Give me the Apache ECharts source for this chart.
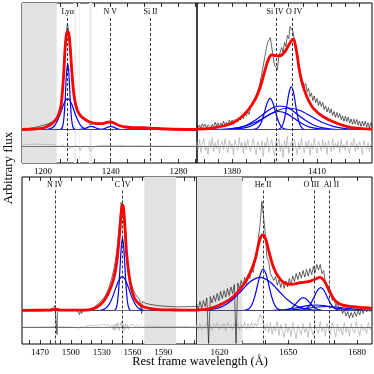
<!DOCTYPE html>
<html>
<head>
<meta charset="utf-8">
<script src="https://cdn.jsdelivr.net/npm/echarts@6/dist/echarts.min.js"></script>
<style>
html,body{margin:0;padding:0;background:#fff;}
#chart{width:374px;height:374px;}
</style>
</head>
<body>
<div id="chart"></div>
<script>
// ---------- data (wavelength in Angstrom, flux in arbitrary units, 0 = fit baseline) ----------
var RES0 = -0.165;   // zero level of the residual strip

// top-left : Lya / N V
var tlData = [[1187.6,0.002],[1189,0.004],[1190.5,0.006],[1192,0.01],[1193.5,0.014],[1195,0.02],[1196.5,0.026],[1198,0.032],[1199.5,0.04],[1201,0.046],[1202.5,0.054],[1204,0.064],[1205.5,0.078],[1206.5,0.09],[1207.5,0.108],[1208.5,0.13],[1209.3,0.15],[1210,0.185],[1210.7,0.24],[1211.4,0.33],[1212.1,0.47],[1212.8,0.66],[1213.4,0.84],[1213.9,0.98],[1214.4,1.06],[1214.9,1.02],[1215.4,0.93],[1215.9,0.82],[1216.5,0.66],[1217.1,0.52],[1217.8,0.39],[1218.5,0.3],[1219.3,0.23],[1220.2,0.18],[1221.2,0.145],[1222.2,0.12],[1223.3,0.105],[1224.5,0.092],[1225.8,0.08],[1227,0.07],[1227.8,0.045],[1228.5,0.065],[1230,0.06],[1231.5,0.055],[1233,0.057],[1234.5,0.06],[1236,0.064],[1237.5,0.07],[1239,0.078],[1240.2,0.082],[1241.4,0.076],[1242.6,0.062],[1244,0.046],[1245.5,0.034],[1247,0.027],[1249,0.022],[1251,0.02],[1253,0.018],[1255,0.019],[1257,0.02],[1259,0.021],[1261,0.016],[1263,0.012],[1265,0.01],[1267,0.009],[1269,0.008],[1271,0.006],[1273,0.008],[1275,0.005],[1277,0.004],[1280,0.003],[1283,0.003],[1286,0.002],[1289,0.002],[1291,0.001]];
var tlFit = [[1187.6,0.0],[1194.3,0.005],[1200.2,0.015],[1204.1,0.045],[1207.1,0.088],[1209.1,0.145],[1210.7,0.245],[1212,0.495],[1213,0.795],[1213.8,0.945],[1214.6,0.978],[1215.4,0.945],[1216.2,0.795],[1217.2,0.545],[1218.3,0.345],[1219.9,0.212],[1221.9,0.145],[1224.9,0.102],[1227.8,0.075],[1231.8,0.058],[1234.7,0.058],[1237.3,0.068],[1239.6,0.075],[1242,0.065],[1244.6,0.042],[1248.5,0.025],[1253.5,0.018],[1259.4,0.018],[1265.3,0.012],[1273.2,0.005],[1291,0.0]];
var tlComps = [
  [[1187.6,0],[1209.5,0],[1210.8,0.005],[1211.6,0.03],[1212.4,0.12],[1213.2,0.33],[1213.9,0.56],[1214.6,0.662],[1215.3,0.56],[1216,0.33],[1216.8,0.12],[1217.6,0.03],[1218.4,0.005],[1219.7,0],[1291,0]],
  [[1187.6,0],[1202,0],[1204,0.006],[1206,0.022],[1208,0.07],[1210,0.148],[1212,0.245],[1213.3,0.29],[1214.6,0.308],[1215.9,0.29],[1217.2,0.245],[1219.2,0.148],[1221.2,0.07],[1223.2,0.022],[1225.2,0.006],[1227.2,0],[1291,0]],
  [[1187.6,0],[1221,0],[1223.5,0.005],[1225.5,0.015],[1227,0.026],[1228.4,0.03],[1229.8,0.026],[1231.3,0.015],[1233.3,0.005],[1236,0],[1291,0]],
  [[1187.6,0],[1234,0],[1236,0.006],[1237.8,0.02],[1240,0.032],[1242.2,0.02],[1244,0.006],[1246,0],[1291,0]],
  [[1187.6,0],[1255,0],[1258,0.004],[1262,0.01],[1266,0.004],[1269,0],[1291,0]]
];
var tlResid = [[1188,-0.155],[1191,-0.15],[1194,-0.145],[1197,-0.148],[1200,-0.15],[1203,-0.147],[1206,-0.152],[1208,-0.16],[1210,-0.17],[1211.5,-0.15],[1213,-0.18],[1214,-0.2],[1215,-0.16],[1216,-0.19],[1217,-0.21],[1218,-0.17],[1219.5,-0.16],[1221,-0.175],[1222,-0.21],[1223,-0.17],[1225,-0.165],[1227,-0.175],[1228,-0.22],[1229,-0.2],[1230,-0.17],[1233,-0.162],[1236,-0.158],[1239,-0.16],[1241,-0.163],[1244,-0.157],[1248,-0.162],[1252,-0.165],[1256,-0.16],[1260,-0.165],[1264,-0.163],[1268,-0.166],[1272,-0.164],[1276,-0.165],[1280,-0.165],[1285,-0.165],[1291,-0.165]];
var tlMasks = [[1187.6,1208.1]];
var tlLightMasks = [[1218.3,1219.5],[1221.3,1221.9],[1227.2,1229]];
var tlLines = [['Lyα',1214.6],['N V',1239.8],['Si II',1263.5]];

// top-right : Si IV + O IV]
var trWave = [1367.5,1368,1368.5,1369,1369.5,1370,1370.5,1371,1371.5,1372,
  1372.5,1373,1373.5,1374,1374.5,1375,1375.5,1376,1376.5,1377,
  1377.5,1378,1378.5,1379,1379.5,1380,1380.5,1381,1381.5,1382,
  1382.5,1383,1383.5,1384,1384.5,1385,1385.5,1386,1386.5,1387,
  1387.5,1388,1388.5,1389,1389.5,1390,1390.5,1391,1391.5,1392,
  1392.5,1393,1393.5,1394,1394.5,1395,1395.5,1396,1396.5,1397,
  1397.5,1398,1398.5,1399,1399.5,1400,1400.5,1401,1401.5,1402,
  1402.5,1403,1403.5,1404,1404.5,1405,1405.5,1406,1406.5,1407,
  1407.5,1408,1408.5,1409,1409.5,1410,1410.5,1411,1411.5,1412,
  1412.5,1413,1413.5,1414,1414.5,1415,1415.5,1416,1416.5,1417,
  1417.5,1418,1418.5,1419,1419.5,1420,1420.5,1421,1421.5,1422,
  1422.5,1423,1423.5,1424,1424.5,1425,1425.5,1426,1426.5,1427,
  1427.5,1428,1428.5,1429,1429.5];
var trFlux = [0.05,0.02,0.045,0.012,0.057,0.028,0.052,0.013,0.046,0.065,
  0.02,0.052,0.015,0.072,0.034,0.066,0.024,0.065,0.044,0.085,
  0.038,0.073,0.039,0.094,0.062,0.096,0.052,0.1,0.12,0.076,
  0.123,0.095,0.143,0.107,0.167,0.136,0.18,0.15,0.22,0.2,
  0.265,0.245,0.335,0.32,0.42,0.425,0.56,0.57,0.72,0.73,
  0.87,0.85,0.92,0.82,0.81,0.64,0.64,0.6,0.73,0.72,
  0.82,0.77,0.87,0.83,0.94,0.91,1.03,1.05,0.98,0.97,
  0.8,0.77,0.63,0.64,0.52,0.53,0.43,0.46,0.38,0.41,
  0.33,0.365,0.29,0.335,0.27,0.31,0.24,0.285,0.23,0.27,
  0.2,0.235,0.175,0.22,0.165,0.205,0.142,0.18,0.122,0.17,
  0.118,0.16,0.098,0.137,0.082,0.131,0.08,0.125,0.065,0.106,
  0.052,0.103,0.054,0.1,0.042,0.084,0.031,0.083,0.035,0.082,
  0.025,0.068,0.016,0.069,0.022];
var trResid = [-0.12,-0.2,-0.1,-0.23,-0.14,-0.09,-0.21,-0.16,-0.25,-0.11,-0.18,-0.08,-0.22,-0.13,-0.19,-0.1,-0.24,-0.15,-0.12,-0.2,
  -0.09,-0.17,-0.23,-0.11,-0.19,-0.14,-0.26,-0.1,-0.16,-0.21,-0.08,-0.18,-0.13,-0.24,-0.12,-0.2,-0.1,-0.17,-0.22,-0.14,
  -0.09,-0.19,-0.25,-0.12,-0.16,-0.21,-0.11,-0.27,-0.13,-0.18,-0.08,-0.23,-0.15,-0.1,-0.2,-0.26,-0.12,-0.17,-0.09,-0.22,
  -0.14,-0.28,-0.11,-0.19,-0.07,-0.24,-0.16,-0.12,-0.21,-0.1,-0.18,-0.25,-0.13,-0.2,-0.09,-0.17,-0.23,-0.12,-0.19,-0.11,
  -0.26,-0.14,-0.2,-0.09,-0.18,-0.24,-0.12,-0.16,-0.21,-0.1,-0.19,-0.13,-0.25,-0.11,-0.17,-0.22,-0.09,-0.2,-0.14,-0.18,
  -0.12,-0.23,-0.1,-0.19,-0.15,-0.21,-0.11,-0.18,-0.24,-0.13,-0.17,-0.09,-0.22,-0.14,-0.2,-0.12,-0.18,-0.25,-0.11,-0.16,
  -0.2,-0.13,-0.22,-0.15,-0.12];
var trFit = [[1367.6,0.005],[1372.2,0.012],[1376.9,0.035],[1380.5,0.07],[1383.4,0.128],[1385.8,0.2],[1388.1,0.3],[1389.9,0.42],[1391.3,0.56],[1392.8,0.7],[1394,0.745],[1395.2,0.74],[1396.3,0.735],[1397.5,0.745],[1398.7,0.78],[1399.9,0.84],[1401.1,0.895],[1401.7,0.9],[1402.3,0.85],[1403,0.74],[1403.6,0.62],[1404.6,0.478],[1406.4,0.328],[1408.7,0.212],[1412.2,0.128],[1417,0.062],[1421.7,0.022],[1429.4,0.003]];
var trComps = [
  [[1367.6,0],[1386.9,0],[1388.4,0.007],[1389.4,0.026],[1390.4,0.078],[1391.4,0.168],[1392.4,0.267],[1393.4,0.312],[1394.4,0.267],[1395.4,0.168],[1396.4,0.078],[1397.4,0.026],[1398.4,0.007],[1399.9,0],[1429.4,0]],
  [[1367.6,0],[1395.4,0],[1396.7,0.006],[1397.7,0.037],[1398.5,0.109],[1399.3,0.233],[1400.1,0.368],[1400.9,0.428],[1401.7,0.368],[1402.5,0.233],[1403.3,0.109],[1404.1,0.037],[1405.1,0.006],[1406.4,0],[1429.4,0]],
  [[1367.6,0],[1375,0],[1379,0.005],[1382,0.016],[1385,0.043],[1388,0.09],[1391,0.153],[1394,0.212],[1397,0.235],[1400,0.212],[1403,0.153],[1406,0.09],[1409,0.043],[1412,0.016],[1415,0.005],[1419,0],[1429.4,0]],
  [[1367.6,0],[1376,0.002],[1380,0.009],[1384,0.029],[1388,0.07],[1392,0.13],[1396,0.19],[1400,0.215],[1404,0.19],[1408,0.13],[1412,0.07],[1416,0.029],[1420,0.009],[1424,0.002],[1429.4,0]],
  [[1367.6,0],[1379.5,0],[1382.75,0.008],[1385.5,0.024],[1388.25,0.058],[1391,0.109],[1393.75,0.159],[1396.5,0.18],[1399.25,0.159],[1402,0.109],[1404.75,0.058],[1407.5,0.024],[1410.25,0.008],[1413.5,0],[1429.4,0]]
];
var trLines = [['Si IV',1395.5],['O IV',1401.2]];

// bottom-left : N IV] / C IV
var blData = [[1452.5,0.003],[1455,0.0],[1457.5,0.004],[1460,0.001],[1462.5,0.005],[1465,0.002],[1467.5,0.006],[1470,0.003],[1472.5,0.007],[1475,0.004],[1477.5,0.008],[1480,0.012],[1482,0.025],[1483.5,0.04],[1484.5,0.05],[1485.5,0.042],[1486.2,0.03],[1486.6,-0.24],[1487,0.02],[1488,0.012],[1490,0.006],[1492.5,0.003],[1495,0.005],[1497.5,0.001],[1500,0.004],[1502.5,0.002],[1505,0.0],[1507,-0.01],[1508.5,-0.04],[1509.5,0.0],[1510.5,-0.03],[1511.5,-0.05],[1512.5,0.0],[1514,0.004],[1516,0.008],[1518,0.012],[1520,0.02],[1522,0.03],[1524,0.045],[1526,0.06],[1528,0.08],[1530,0.1],[1532,0.125],[1534,0.155],[1536,0.2],[1538,0.26],[1540,0.33],[1542,0.42],[1544,0.54],[1545.5,0.67],[1547,0.84],[1548.2,0.98],[1549,1.08],[1549.6,1.1],[1550.3,1.07],[1551,0.98],[1552,0.84],[1553,0.69],[1554,0.56],[1555.5,0.43],[1557,0.34],[1559,0.26],[1561,0.2],[1563,0.16],[1565,0.13],[1567,0.11],[1568.5,0.095],[1569,-0.03],[1569.5,0.09],[1571,0.08],[1573,0.072],[1575,0.066],[1578,0.06],[1581,0.055],[1584,0.05],[1587,0.047],[1590,0.044],[1593,0.042],[1596,0.04],[1599,0.038],[1602,0.037],[1605,0.036],[1608,0.038],[1611,0.036],[1614,0.04],[1617,0.038],[1620,0.042],[1622.8,0.04]];
var blFit = [[1452.5,0.002],[1480,0.003],[1483,0.008],[1485,0.015],[1487,0.008],[1490,0.003],[1510,0.003],[1518.7,0.008],[1525.2,0.032],[1531.6,0.088],[1536.5,0.172],[1541.4,0.305],[1544.6,0.472],[1547.2,0.738],[1548.8,0.938],[1550.1,1.055],[1551.1,1.038],[1552.7,0.838],[1554.3,0.572],[1556.9,0.338],[1560.2,0.172],[1564.1,0.088],[1570.6,0.038],[1583.5,0.012],[1599.8,0.005],[1622.8,0.003]];
var blComps = [
  [[1452.5,0],[1541.3,0],[1542.8,0.004],[1544.3,0.028],[1545.5,0.09],[1546.7,0.223],[1547.9,0.429],[1549.1,0.634],[1550.3,0.722],[1551.5,0.634],[1552.7,0.429],[1553.9,0.223],[1555.1,0.09],[1556.3,0.028],[1557.8,0.004],[1559.3,0],[1622.8,0]],
  [[1452.5,0],[1528,0],[1532,0.011],[1535,0.032],[1538,0.075],[1541,0.144],[1544,0.232],[1547,0.307],[1550,0.338],[1553,0.307],[1556,0.232],[1559,0.144],[1562,0.075],[1565,0.032],[1568,0.011],[1572,0],[1622.8,0]]
];
var blResid = [[1452.5,-0.163],[1456,-0.166],[1460,-0.164],[1464,-0.167],[1468,-0.164],[1472,-0.166],[1476,-0.163],[1480,-0.165],[1484,-0.16],[1486,-0.17],[1488,-0.165],[1492,-0.162],[1496,-0.166],[1500,-0.164],[1504,-0.168],[1508,-0.175],[1510,-0.16],[1512,-0.172],[1514,-0.162],[1517,-0.155],[1520,-0.15],[1522,-0.158],[1524,-0.145],[1526,-0.16],[1528,-0.14],[1530,-0.155],[1532,-0.135],[1534,-0.16],[1536,-0.14],[1538,-0.17],[1540,-0.145],[1541,-0.19],[1542,-0.14],[1543,-0.2],[1544,-0.13],[1545,-0.18],[1546,-0.12],[1547,-0.2],[1548,-0.15],[1549,-0.11],[1550,-0.19],[1551,-0.14],[1552,-0.2],[1553,-0.13],[1554,-0.18],[1555,-0.14],[1556,-0.19],[1557,-0.15],[1558,-0.17],[1560,-0.14],[1562,-0.165],[1564,-0.145],[1566,-0.16],[1568,-0.15],[1570,-0.17],[1572,-0.15],[1574,-0.16],[1576,-0.152],[1578,-0.165],[1580,-0.155],[1583,-0.162],[1586,-0.158],[1589,-0.165],[1592,-0.16],[1595,-0.158],[1598,-0.163],[1601,-0.16],[1604,-0.165],[1607,-0.158],[1610,-0.162],[1613,-0.16],[1616,-0.165],[1619,-0.162],[1622.8,-0.16]];
var blMasks = [[1571.5,1602.4]];
var blLines = [['N IV',1484.6],['C IV',1550.5]];

// bottom-right : He II / O III] / Al II
var brWave = [1610,1610.75,1611.5,1612.25,1613,1613.75,1614.5,1615.25,1616,1616.75,
  1617.5,1618.25,1619,1619.75,1620.5,1621.25,1622,1622.75,1623.5,1624.25,
  1625,1625.75,1626.5,1627.25,1628,1628.75,1629.5,1630.25,1631,1631.75,
  1632.5,1633.25,1634,1634.75,1635.5,1636.25,1637,1637.75,1638.5,1639.25,
  1640,1640.75,1641.5,1642.25,1643,1643.75,1644.5,1645.25,1646,1646.75,
  1647.5,1648.25,1649,1649.75,1650.5,1651.25,1652,1652.75,1653.5,1654.25,
  1655,1655.75,1656.5,1657.25,1658,1658.75,1659.5,1660.25,1661,1661.75,
  1662.5,1663.25,1664,1664.75,1665.5,1666.25,1667,1667.75,1668.5,1669.25,
  1670,1670.75,1671.5,1672.25,1673,1673.75,1674.5,1675.25,1676,1676.75,
  1677.5,1678.25,1679,1679.75,1680.5,1681.25,1682,1682.75,1683.5,1684.25,
  1685,1685.75,1686.5];
var brFlux = [0.07,0.01,0.09,0.02,0.1,0.04,0.125,-0.33,0.14,0.075,
  0.15,0.09,0.17,0.1,0.19,0.12,0.2,0.135,0.22,0.15,
  0.235,0.17,0.26,-0.33,0.275,0.215,0.3,0.24,0.33,0.27,
  0.36,0.32,0.42,0.38,0.5,0.53,0.73,0.86,1.09,0.94,
  0.77,0.53,0.49,0.37,0.39,0.3,0.34,0.255,0.31,0.23,
  0.295,0.22,0.295,0.235,0.32,0.26,0.345,0.29,0.37,0.31,
  0.385,0.325,0.4,0.335,0.41,0.345,0.42,0.36,0.44,0.38,
  0.46,0.405,0.46,0.37,0.4,0.275,0.29,0.175,0.2,0.1,
  0.125,0.04,0.075,0.0,0.035,-0.03,0.01,-0.055,-0.01,-0.075,
  -0.02,-0.07,-0.01,-0.06,0.0,-0.045,0.02,-0.03,0.035,-0.015,
  0.04,-0.01,0.035];
var brResid = [-0.14,-0.19,-0.13,-0.2,-0.15,-0.18,-0.12,-0.19,-0.14,-0.2,
  -0.13,-0.17,-0.12,-0.19,-0.14,-0.18,-0.13,-0.2,-0.12,-0.17,
  -0.14,-0.19,-0.12,-0.18,-0.13,-0.2,-0.14,-0.17,-0.12,-0.19,
  -0.13,-0.18,-0.12,-0.17,-0.13,
  -0.16,-0.1,-0.04,-0.08,-0.12,-0.2,-0.14,-0.22,-0.12,-0.24,-0.15,-0.21,-0.11,-0.25,-0.14,-0.2,-0.27,-0.13,-0.22,-0.16,
  -0.26,-0.12,-0.21,-0.28,-0.15,-0.19,-0.24,-0.13,-0.22,-0.17,-0.27,-0.12,-0.2,-0.25,-0.14,-0.19,-0.23,-0.11,-0.21,-0.16,
  -0.26,-0.13,-0.2,-0.24,-0.12,-0.18,-0.27,-0.14,-0.21,-0.17,-0.25,-0.12,-0.22,-0.16,-0.26,-0.13,-0.2,-0.23,-0.11,-0.19,
  -0.25,-0.14,-0.2,-0.17,-0.23,-0.12,-0.19,-0.16];
var brFit = [[1610.2,0.005],[1615.9,0.02],[1621.7,0.072],[1626,0.138],[1630.4,0.255],[1633.3,0.372],[1635.5,0.505],[1637,0.655],[1638.1,0.738],[1639.1,0.755],[1640.3,0.705],[1641.8,0.572],[1643.5,0.438],[1645.7,0.338],[1648.6,0.272],[1651.5,0.262],[1655.2,0.278],[1658.8,0.288],[1661.7,0.312],[1663.9,0.332],[1665.3,0.31],[1667.5,0.222],[1669.7,0.122],[1671.9,0.072],[1675.5,0.045],[1681.3,0.032],[1686.6,0.022]];
var brComps = [
  [[1610,0],[1630.1,0],[1631.6,0.005],[1632.85,0.018],[1634.1,0.056],[1635.35,0.134],[1636.6,0.25],[1637.85,0.364],[1639.1,0.412],[1640.35,0.364],[1641.6,0.25],[1642.85,0.134],[1644.1,0.056],[1645.35,0.018],[1646.6,0.005],[1648.1,0],[1686.6,0]],
  [[1610,0],[1612,0.002],[1613.7,0.004],[1617.7,0.015],[1621.7,0.045],[1625.7,0.108],[1629.7,0.2],[1633.7,0.293],[1637.7,0.332],[1641.7,0.293],[1645.7,0.2],[1649.7,0.108],[1653.7,0.045],[1657.7,0.015],[1661.7,0.004],[1665,0],[1686.6,0]],
  [[1610,0],[1648.1,0],[1649.6,0.006],[1651,0.017],[1652.4,0.042],[1653.8,0.078],[1655.2,0.113],[1656.6,0.128],[1658,0.113],[1659.4,0.078],[1660.8,0.042],[1662.2,0.017],[1663.6,0.006],[1665.1,0],[1686.6,0]],
  [[1610,0],[1655.7,0],[1657.2,0.011],[1658.6,0.03],[1660,0.074],[1661.4,0.138],[1662.8,0.201],[1664.2,0.228],[1665.6,0.201],[1667,0.138],[1668.4,0.074],[1669.8,0.03],[1671.2,0.011],[1672.7,0],[1686.6,0]],
  [[1610,0],[1641,0],[1644.5,0.002],[1648,0.007],[1651.5,0.018],[1655,0.033],[1658.5,0.049],[1662,0.055],[1665.5,0.049],[1669,0.033],[1672.5,0.018],[1676,0.007],[1679.5,0.002],[1683,0],[1686.6,0]],
  [[1610,0],[1643,0],[1647,0.002],[1651,0.005],[1655,0.013],[1659,0.024],[1663,0.035],[1667,0.04],[1671,0.035],[1675,0.024],[1679,0.013],[1683,0.005],[1686.6,0.002]]
];
var brMasks = [[1610.2,1630]];
var brLines = [['He II',1639.1],['O III',1661.4],['Al II',1668]];

// ---------- axes ----------
var FONT = 'Liberation Serif, DejaVu Serif, serif';
var panels = [
  {grid:{left:22,top:3,width:175,height:160}, x:[1187.6,1291], y:[-0.335,1.265],
   ticks:[1190,1200,1210,1220,1230,1240,1250,1260,1270,1280,1290], labels:[1200,1240,1280]},
  {grid:{left:197,top:3,width:175,height:160}, x:[1367.6,1429.4], y:[-0.335,1.265],
   ticks:[1370,1375,1380,1385,1390,1395,1400,1405,1410,1415,1420,1425], labels:[1380,1410]},
  {grid:{left:22,top:177,width:175,height:167}, x:[1452.5,1622.8], y:[-0.335,1.335],
   ticks:[1460,1470,1480,1490,1500,1510,1520,1530,1540,1550,1560,1570,1580,1590,1600,1610,1620], labels:[1470,1500,1530,1560,1590]},
  {grid:{left:197,top:177,width:175,height:167}, x:[1610.2,1686.6], y:[-0.335,1.335],
   ticks:[1620,1630,1640,1650,1660,1670,1680], labels:[1620,1650,1680]}
];
// small horizontal nudges of the line names, in pixels
var labelShift = {'Si IV':-1, 'O IV':2, 'O III':-3, 'Al II':2};

var grids = [], xAxes = [], yAxes = [], series = [];
panels.forEach(function (p, i) {
  grids.push(Object.assign({show:true, borderColor:'#000', borderWidth:1, backgroundColor:'transparent'}, p.grid));
  xAxes.push({type:'value', gridIndex:i, position:'bottom', min:p.x[0], max:p.x[1],
    axisLine:{show:false, onZero:false}, splitLine:{show:false},
    axisTick:{show:true, inside:true, length:4, customValues:p.ticks, lineStyle:{color:'#000', width:0.8}},
    axisLabel:{show:true, customValues:p.labels, fontFamily:FONT, fontSize:9, color:'#000', margin:4,
      formatter:function (v) { return String(v); }}});
  xAxes.push({type:'value', gridIndex:i, position:'top', min:p.x[0], max:p.x[1],
    axisLine:{show:false, onZero:false}, splitLine:{show:false},
    axisTick:{show:true, inside:true, length:4, customValues:p.ticks, lineStyle:{color:'#000', width:0.8}},
    axisLabel:{show:false}});
  yAxes.push({type:'value', gridIndex:i, min:p.y[0], max:p.y[1], show:false});
});

function line(gi, data, color, width, z, extra) {
  return Object.assign({type:'line', xAxisIndex:2 * gi, yAxisIndex:gi, data:data, symbol:'none',
    lineStyle:{color:color, width:width}, z:z, silent:true, animation:false}, extra || {});
}
function zip(w, v) {
  var out = [];
  for (var k = 0; k < w.length && k < v.length; k++) out.push([w[k], v[k]]);
  return out;
}
function masks(list, color) {
  return list.map(function (m) { return [{xAxis:m[0], itemStyle:{color:color}}, {xAxis:m[1]}]; });
}
function dashLines(gi, list, top) {
  var ymin = panels[gi].y[0];
  return line(gi, [], '#000', 0, 6, {markLine:{silent:true, symbol:['none','none'], animation:false,
    lineStyle:{color:'#222', width:0.9, type:[3,2]},
    label:{show:true, position:'start', formatter:'{b}', fontFamily:FONT, fontSize:8, color:'#000', distance:2},
    data:list.map(function (l) {
      return [{name:l[0], coord:[l[1], top], label:{offset:[labelShift[l[0]] || 0, 0]}}, {coord:[l[1], ymin]}];
    })}});
}
function baseLines(gi) {
  return line(gi, [], '#000', 0, 2, {markLine:{silent:true, symbol:['none','none'], animation:false,
    label:{show:false}, lineStyle:{color:'#555', width:0.8, type:'solid'},
    data:[{yAxis:0}, {yAxis:RES0}]}});
}

var sets = [
  {data:tlData, fit:tlFit, comps:tlComps, resid:tlResid, masks:tlMasks, light:tlLightMasks, lines:tlLines, top:1.115},
  {data:zip(trWave, trFlux), fit:trFit, comps:trComps, resid:zip(trWave, trResid), masks:[], light:[], lines:trLines, top:1.115},
  {data:blData, fit:blFit, comps:blComps, resid:blResid, masks:blMasks, light:[], lines:blLines, top:1.2},
  {data:zip(brWave, brFlux), fit:brFit, comps:brComps, resid:zip(brWave, brResid), masks:brMasks, light:[], lines:brLines, top:1.2}
];

sets.forEach(function (s, gi) {
  series.push(line(gi, [], '#000', 0, 0, {markArea:{silent:true, animation:false,
    data:masks(s.masks, '#e2e2e2').concat(masks(s.light, '#efefef'))}}));
  series.push(line(gi, s.resid, '#b4b4b4', 0.8, 1));
  series.push(baseLines(gi));
  series.push(line(gi, s.data, '#000', 0.6, 3));
  s.comps.forEach(function (c) { series.push(line(gi, c, '#0000ff', 1.2, 4, {smooth:0.3})); });
  series.push(line(gi, s.fit, '#ff0000', 2.8, 5, {smooth:0.3}));
  series.push(dashLines(gi, s.lines, s.top));
});

var chart = echarts.init(document.getElementById('chart'), null, {renderer:'canvas'});
chart.setOption({
  backgroundColor:'#fff',
  animation:false,
  grid:grids, xAxis:xAxes, yAxis:yAxes, series:series,
  graphic:[
    {type:'text', x:9, y:168, rotation:Math.PI / 2,
     style:{text:'Arbitrary flux', fontFamily:FONT, fontSize:13, fill:'#000', textAlign:'center', textVerticalAlign:'middle', align:'center', verticalAlign:'middle'}},
    {type:'text', x:200, y:362,
     style:{text:'Rest frame wavelength (Å)', fontFamily:FONT, fontSize:12.5, fill:'#000', textAlign:'center', textVerticalAlign:'middle', align:'center', verticalAlign:'middle'}}
  ]
});
</script>
</body>
</html>
